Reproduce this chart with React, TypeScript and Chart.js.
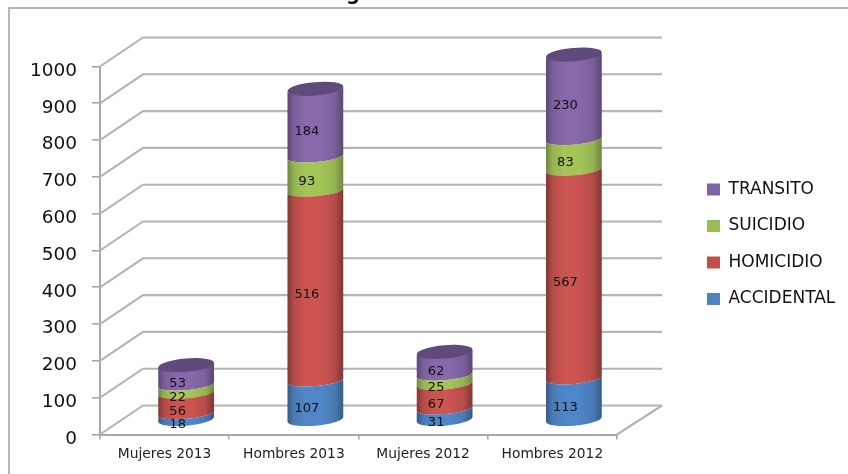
import React, { useEffect, useRef } from "react";
import { Chart, BarController, BarElement, CategoryScale, LinearScale, Legend } from "chart.js";

const categories = ["Mujeres 2013", "Hombres 2013", "Mujeres 2012", "Hombres 2012"];
const accidental = [18, 107, 31, 113];
const homicidio = [56, 516, 67, 567];
const suicidio = [22, 93, 25, 83];
const transito = [53, 184, 62, 230];

const DEPTH_X = 21.5;
const DEPTH_Y = -14.5;
const FONT = "'DejaVu Sans', sans-serif";

class CylinderBar extends BarElement {
  static id = "cylinderBar";
  draw(ctx: CanvasRenderingContext2D) {
    const { x, y, base, width } = (this as any).getProps(["x", "y", "base", "width"]);
    const ds = (this as any).cylDataset;
    const rx = width / 2;
    const ry = 5.5;
    const rot = -5 * Math.PI / 180;
    const dx = rx * Math.cos(rot);
    const dy = rx * Math.sin(rot);
    ctx.save();
    ctx.translate(DEPTH_X, DEPTH_Y);
    const g = ctx.createLinearGradient(x - rx, 0, x + rx, 0);
    g.addColorStop(0, ds.edgeColor);
    g.addColorStop(0.12, ds.midColor);
    g.addColorStop(0.32, ds.brightColor);
    g.addColorStop(0.6, ds.brightColor);
    g.addColorStop(0.84, ds.midColor);
    g.addColorStop(1, ds.edgeColor);
    ctx.fillStyle = g;
    ctx.beginPath();
    ctx.ellipse(x, base, rx, (this as any).cylIndex === 0 ? 6.5 : ry, rot, 0, Math.PI, false);
    ctx.lineTo(x - dx, y - dy);
    ctx.ellipse(x, y, rx, ry, rot, Math.PI, 0, true);
    ctx.closePath();
    ctx.fill();
    if ((this as any).cylIndex === 3) {
      ctx.fillStyle = ds.capColor;
      ctx.beginPath();
      ctx.ellipse(x, y, rx, 6.7, rot, 0, Math.PI * 2);
      ctx.fill();
    }
    ctx.restore();
  }
}

class CylinderController extends BarController {
  static id = "cylinder";
  static defaults = { ...BarController.defaults, dataElementType: "cylinderBar" };
  draw() {
    const self = this as any;
    self._cachedMeta.data.forEach((el: any) => {
      el.cylDataset = self.getDataset();
      el.cylIndex = self.index;
    });
    super.draw();
  }
}

Chart.register(CylinderController, CylinderBar, CategoryScale, LinearScale, Legend);

const frame = {
  id: "frame",
  beforeDraw(chart: any) {
    const { ctx, width, height } = chart;
    ctx.save();
    ctx.fillStyle = "#fff";
    ctx.fillRect(0, 0, width, height);
    ctx.strokeStyle = "#9a9a9a";
    ctx.lineWidth = 1.4;
    ctx.beginPath();
    ctx.moveTo(9, height);
    ctx.lineTo(9, 8);
    ctx.lineTo(width, 8);
    ctx.stroke();
    ctx.fillStyle = "#000";
    ctx.font = `bold 19px ${FONT}`;
    ctx.textAlign = "center";
    ctx.textBaseline = "alphabetic";
    ctx.fillText("g", 353, 0);
    ctx.restore();
  },
};

const walls = {
  id: "walls",
  beforeDatasetsDraw(chart: any) {
    const { ctx, scales, chartArea } = chart;
    const wx = DEPTH_X * 2;
    const wy = DEPTH_Y * 2;
    ctx.save();
    ctx.strokeStyle = "#b4b4b4";
    ctx.lineWidth = 2.1;
    scales.y.ticks.forEach((t: any) => {
      const py = scales.y.getPixelForValue(t.value);
      ctx.beginPath();
      ctx.moveTo(chartArea.left, py);
      ctx.lineTo(chartArea.left + wx, py + wy);
      ctx.lineTo(chartArea.right + wx + 2, py + wy);
      ctx.stroke();
    });
    ctx.beginPath();
    ctx.moveTo(chartArea.right, chartArea.bottom);
    ctx.lineTo(chartArea.right + wx + 2, chartArea.bottom + wy);
    ctx.stroke();
    ctx.restore();
  },
};

const dataLabels = {
  id: "dataLabels",
  afterDatasetsDraw(chart: any) {
    const { ctx } = chart;
    ctx.save();
    ctx.font = `13px ${FONT}`;
    ctx.fillStyle = "#111";
    ctx.textAlign = "center";
    ctx.textBaseline = "middle";
    chart.data.datasets.forEach((ds: any, i: number) => {
      chart.getDatasetMeta(i).data.forEach((bar: any, j: number) => {
        const { x, y, base } = bar.getProps(["x", "y", "base"]);
        ctx.fillText(String(ds.data[j]), x + DEPTH_X - 8.5, (y + base) / 2 + DEPTH_Y + 8.5);
      });
    });
    ctx.restore();
  },
};

const placeLegend = {
  id: "placeLegend",
  afterLayout(chart: any) {
    const lg = chart.legend;
    lg.left = 687.5;
    lg.top = 161.5;
    lg.right = chart.width;
    lg.bottom = chart.height;
    lg.width = lg.right - lg.left;
    lg.height = lg.bottom - lg.top;
  },
};

export default function App() {
  const ref = useRef<HTMLCanvasElement | null>(null);
  useEffect(() => {
    document.body.style.margin = "0";
    const chart = new Chart(ref.current as any, {
      type: "cylinder" as any,
      data: {
        labels: categories,
        datasets: [
          { label: "ACCIDENTAL", data: accidental, backgroundColor: "#4f81bd", brightColor: "#4f86c8", midColor: "#4a7ab5", edgeColor: "#365a86", capColor: "#4f81bd", clip: false },
          { label: "HOMICIDIO", data: homicidio, backgroundColor: "#c0504d", brightColor: "#cc5451", midColor: "#b54c49", edgeColor: "#823634", capColor: "#c0504d", clip: false },
          { label: "SUICIDIO", data: suicidio, backgroundColor: "#9bbb59", brightColor: "#a3c556", midColor: "#95b452", edgeColor: "#6f873f", capColor: "#9bbb59", clip: false },
          { label: "TRANSITO", data: transito, backgroundColor: "#8064a2", brightColor: "#8868ab", midColor: "#7b5f9b", edgeColor: "#5a4673", capColor: "#604a7b", clip: false },
        ] as any,
      },
      options: {
        responsive: false,
        animation: false,
        layout: { padding: { left: 0, top: 66.5, right: 231, bottom: 0 } },
        scales: {
          x: {
            stacked: true,
            border: { display: true, color: "#a8a8a8", width: 2 },
            grid: { display: true, offset: true, drawOnChartArea: false, drawTicks: true, tickLength: 5, color: "#a8a8a8", lineWidth: 1.6 },
            ticks: { font: { family: FONT, size: 13.8 }, color: "#222", padding: 7, maxRotation: 0 },
            afterFit: (s: any) => { s.height = 39.5; },
          },
          y: {
            stacked: true,
            min: 0,
            max: 1000,
            border: { display: true, color: "#a8a8a8", width: 2 },
            grid: { display: true, drawOnChartArea: false, drawTicks: true, tickLength: 8, color: "#a8a8a8", lineWidth: 1.6 },
            ticks: {
              stepSize: 100,
              font: { family: FONT, size: 18.5, lineHeight: "9px" },
              color: "#111",
              padding: 15,
              callback: (v: any) => ["", String(v)],
            },
            afterFit: (s: any) => { s.width = 100; },
          },
        },
        datasets: { cylinder: { categoryPercentage: 0.433, barPercentage: 1 } },
        plugins: {
          legend: {
            display: true,
            position: "chartArea",
            reverse: true,
            align: "start",
            labels: {
              boxWidth: 13,
              boxHeight: 12,
              padding: 19.5,
              color: "#111",
              font: { family: FONT, size: 17 },
            },
          },
          tooltip: { enabled: false },
          title: { display: false },
        },
      } as any,
      plugins: [frame, walls, dataLabels, placeLegend],
    });
    return () => chart.destroy();
  }, []);
  return (
    <canvas
      ref={ref}
      width={848}
      height={474}
      style={{ position: "fixed", left: 0, top: 0, display: "block", width: 848, height: 474, filter: "blur(0.45px)" }}
    />
  );
}
